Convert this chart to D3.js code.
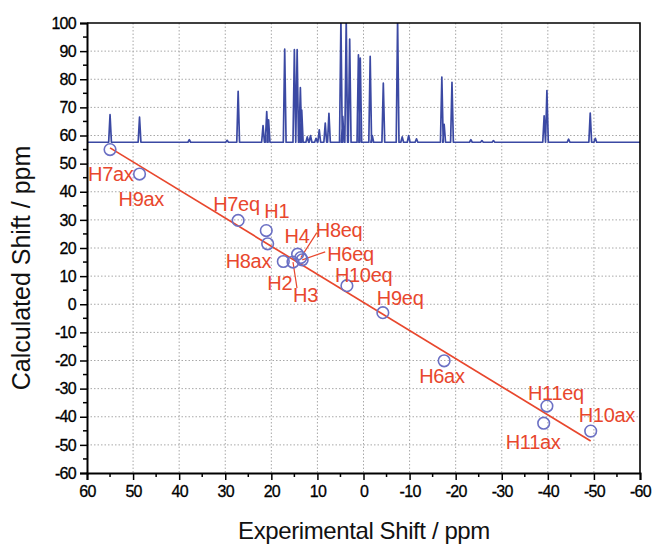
<!DOCTYPE html>
<html>
<head>
<meta charset="utf-8">
<script src="https://cdn.jsdelivr.net/npm/d3@7"></script>
<style>
  body { margin: 0; background: #fff; }
  svg text { font-family: "Liberation Sans", Arial, sans-serif; }
</style>
</head>
<body>
<svg id="plotCanvas" width="654" height="546"></svg>
<script>
// ---- data ----
// shifts in ppm: experimental (x) and calculated (y)
var names = ["H7ax","H9ax","H7eq","H1","H8ax","H2","H3","H4","H8eq","H6eq","H10eq","H9eq","H6ax","H11eq","H11ax","H10ax"];
var expShift = [55.0, 48.6, 27.2, 21.1, 20.8, 17.4, 15.3, 14.3, 13.6, 13.3, 3.6, -4.2, -17.5, -39.8, -39.1, -49.3];
var calcShift = [55.0, 46.3, 29.8, 26.2, 21.5, 15.2, 15.0, 17.8, 16.6, 15.8, 6.6, -3.0, -20.1, -36.2, -42.3, -45.1];

// regression line end points
var fitX = [55.0, -49.3];
var fitY = [55.6, -48.6];

// spectrum drawn on top: baseline and peak positions / apex heights (in y units)
var specBase = 57.6;
var peakPos = [55.0, 48.6, 37.8, 29.6, 27.2, 21.8, 21.0, 20.6, 17.1, 15.0, 14.4, 13.7, 13.4, 12.2, 11.5, 10.3, 9.6, 8.3, 7.5,
               4.9, 4.5, 3.75, 3.0, 1.1, 0.7, -1.45, -1.9, -4.3, -7.4, -8.4, -9.8, -11.5, -17.0, -17.5, -19.2, -23.3, -25.7, -28.2,
               -39.2, -39.8, -44.5, -49.2, -50.3];
var peakHeight = [67.4, 66.5, 58.5, 58.3, 75.7, 63.5, 68.5, 65.6, 90.7, 90.5, 90.5, 77.0, 69.0, 59.5, 60.0, 59.0, 62.0, 64.4, 67.9,
                  101, 66.8, 101, 94.3, 88.7, 87.5, 88.1, 60.0, 78.6, 101, 59.5, 60.0, 58.8, 80.8, 64.0, 78.9, 58.5, 58.2, 58.2,
                  67.0, 76.0, 58.7, 68.0, 59.0];

var xTicks = [60, 50, 40, 30, 20, 10, 0, -10, -20, -30, -40, -50, -60];
var yTicks = [100, 90, 80, 70, 60, 50, 40, 30, 20, 10, 0, -10, -20, -30, -40, -50, -60];

// label placement (pixel offsets from the point, text start / baseline)
var labelDx = [-22, -21, -25, -2, -42, -16, 0, -13, 15, 25, -12, -6, -25, -19, -38, -12];
var labelDy = [31, 32, -9, -13, 24, 28, 40, -11, -21, 1, -4, -8, 22, -6, 26, -9];
// leader lines: point index and far end offset
var leaders = [[6, 4, 26], [8, 16, -25], [9, 23, -8]];

// ---- layout ----
var canvas = d3.select("#plotCanvas");
var plotLeft = 87, plotRight = 640, plotTop = 23, plotBottom = 473;

var x = d3.scaleLinear().domain([60, -60]).range([plotLeft, plotRight]);
var y = d3.scaleLinear().domain([-60, 100]).range([plotBottom, plotTop]);

var red = "#e8472d";
var blue = "#6b70c4";
var specColor = "#3b49a3";

canvas.append("defs").append("clipPath").attr("id", "plotClip")
      .append("rect")
      .attr("x", plotLeft).attr("y", plotTop)
      .attr("width", plotRight - plotLeft).attr("height", plotBottom - plotTop);

// grid
canvas.append("g")
      .selectAll("line")
      .data(xTicks.filter(function(d){ return d > -60 && d < 60; }))
      .enter().append("line")
      .attr("x1", function(d){ return x(d); })
      .attr("x2", function(d){ return x(d); })
      .attr("y1", plotTop).attr("y2", plotBottom)
      .attr("stroke", "#a8a8a8")
      .attr("stroke-dasharray", "1.5,2");

canvas.append("g")
      .selectAll("line")
      .data(yTicks.filter(function(d){ return d > -60 && d < 100; }))
      .enter().append("line")
      .attr("y1", function(d){ return y(d); })
      .attr("y2", function(d){ return y(d); })
      .attr("x1", plotLeft).attr("x2", plotRight)
      .attr("stroke", "#a8a8a8")
      .attr("stroke-dasharray", "1.5,2");

// spectrum
var specPts = [[60, specBase]];
var w = 0.3;
peakPos.forEach(function(p, i){
   specPts.push([p + w, specBase]);
   specPts.push([p, peakHeight[i]]);
   specPts.push([p - w, specBase]);
});
specPts.push([-60, specBase]);

canvas.append("path")
      .datum(specPts)
      .attr("clip-path", "url(#plotClip)")
      .attr("fill", "none")
      .attr("stroke", specColor)
      .attr("stroke-width", 1.7)
      .attr("stroke-linejoin", "round")
      .attr("d", d3.line().x(function(d){ return x(d[0]); }).y(function(d){ return y(d[1]); }));

// fit line
canvas.append("line")
      .attr("x1", x(fitX[0])).attr("y1", y(fitY[0]))
      .attr("x2", x(fitX[1])).attr("y2", y(fitY[1]))
      .attr("stroke", red)
      .attr("stroke-width", 1.7);

// leader lines
canvas.append("g")
      .selectAll("line")
      .data(leaders)
      .enter().append("line")
      .attr("x1", function(d){ return x(expShift[d[0]]); })
      .attr("y1", function(d){ return y(calcShift[d[0]]); })
      .attr("x2", function(d){ return x(expShift[d[0]]) + d[1]; })
      .attr("y2", function(d){ return y(calcShift[d[0]]) + d[2]; })
      .attr("stroke", red)
      .attr("stroke-width", 1.2);

// points
canvas.append("g")
      .selectAll("circle")
      .data(names)
      .enter().append("circle")
      .attr("cx", function(d, i){ return x(expShift[i]); })
      .attr("cy", function(d, i){ return y(calcShift[i]); })
      .attr("r", 5.8)
      .attr("fill", "none")
      .attr("stroke", blue)
      .attr("stroke-width", 1.6);

// point labels
canvas.append("g")
      .selectAll("text")
      .data(names)
      .enter().append("text")
      .attr("x", function(d, i){ return x(expShift[i]) + labelDx[i]; })
      .attr("y", function(d, i){ return y(calcShift[i]) + labelDy[i]; })
      .attr("fill", red)
      .attr("font-size", "20px")
      .attr("letter-spacing", "-0.3px")
      .text(function(d){ return d; });

// axes
var fmt = function(d){ return String(d); };
var xAxis = d3.axisBottom(x).tickValues(xTicks).tickSize(7).tickPadding(6).tickFormat(fmt);
var yAxis = d3.axisLeft(y).tickValues(yTicks).tickSize(7).tickPadding(4).tickFormat(fmt);

var gx = canvas.append("g").attr("transform", "translate(0," + plotBottom + ")").call(xAxis);
var gy = canvas.append("g").attr("transform", "translate(" + plotLeft + ",0)").call(yAxis);

[gx, gy].forEach(function(g){
   g.select(".domain").attr("stroke", "#000").attr("stroke-width", 2);
   g.selectAll(".tick line").attr("stroke", "#000").attr("stroke-width", 1.5);
   g.selectAll(".tick text")
    .attr("fill", "#000")
    .attr("stroke", "#000")
    .attr("stroke-width", 0.3)
    .attr("font-size", "16px")
    .attr("letter-spacing", "-0.7px")
    .style("font-family", "'Liberation Sans', Arial, sans-serif");
});

// minor ticks at the halves
var minorX = xTicks.slice(0, -1).map(function(d){ return d - 5; });
var minorY = yTicks.slice(0, -1).map(function(d){ return d - 5; });
canvas.append("g").selectAll("line").data(minorX).enter().append("line")
      .attr("x1", function(d){ return x(d); }).attr("x2", function(d){ return x(d); })
      .attr("y1", plotBottom).attr("y2", plotBottom + 4)
      .attr("stroke", "#000").attr("stroke-width", 1.5);
canvas.append("g").selectAll("line").data(minorY).enter().append("line")
      .attr("y1", function(d){ return y(d); }).attr("y2", function(d){ return y(d); })
      .attr("x1", plotLeft).attr("x2", plotLeft - 4)
      .attr("stroke", "#000").attr("stroke-width", 1.5);

// top and right frame
canvas.append("path")
      .attr("d", "M" + plotLeft + "," + plotTop + "H" + plotRight + "V" + plotBottom)
      .attr("fill", "none")
      .attr("stroke", "#000")
      .attr("stroke-width", 1.6);

// axis titles
canvas.append("text")
      .attr("x", 364)
      .attr("y", 539)
      .attr("text-anchor", "middle")
      .attr("font-size", "24px")
      .attr("letter-spacing", "-0.4px")
      .attr("fill", "#111")
      .text("Experimental Shift / ppm");

canvas.append("text")
      .attr("transform", "translate(30," + 268 + ") rotate(-90)")
      .attr("text-anchor", "middle")
      .attr("font-size", "25px")
      .attr("letter-spacing", "0px")
      .attr("fill", "#111")
      .text("Calculated Shift / ppm");
</script>
</body>
</html>
